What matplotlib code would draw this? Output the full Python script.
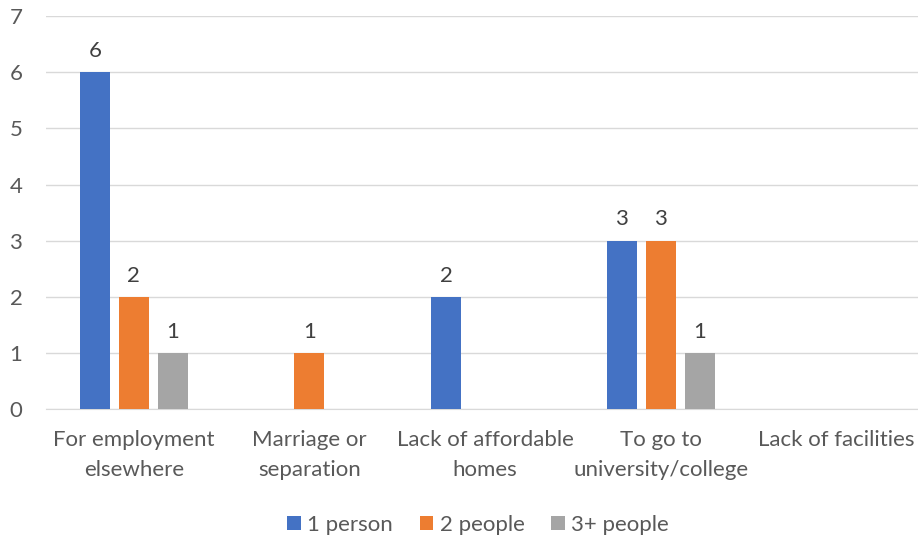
import matplotlib.pyplot as plt
import numpy as np

plt.rcParams['font.family'] = ['Lato', 'DejaVu Sans']

categories = ['For employment\nelsewhere', 'Marriage or\nseparation', 'Lack of affordable\nhomes',
              'To go to\nuniversity/college', 'Lack of facilities']
series_names = ['1 person', '2 people', '3+ people']
one_person = [6, np.nan, 2, 3, np.nan]
two_people = [2, 1, np.nan, 3, np.nan]
three_plus = [1, np.nan, np.nan, 1, np.nan]
colors = ['#4472C4', '#ED7D31', '#A5A5A5']

fs = 16

fig = plt.figure(figsize=(9.18, 5.39), dpi=100)
ax = fig.add_axes([0.0501, 0.241, 0.9564, 0.729])

x = np.arange(len(categories))
w = 0.171
step = 0.222
for i, (vals, name, c) in enumerate(zip([one_person, two_people, three_plus], series_names, colors)):
    bars = ax.bar(x + (i - 1) * step, vals, w, color=c, label=name, zorder=3)
    for b, v in zip(bars, vals):
        if not np.isnan(v):
            ax.text(b.get_x() + b.get_width() / 2, v + 0.2, f'{v:g}', ha='center', va='bottom',
                    fontsize=fs, color='#404040')

ax.set_xlim(-0.5, len(categories) - 0.5)
ax.set_ylim(0, 7)
ax.set_yticks(range(8))
ax.grid(axis='y', color='#d9d9d9', linewidth=1, zorder=0)
for s in ['top', 'right', 'left']:
    ax.spines[s].set_visible(False)
ax.spines['bottom'].set_color('#d9d9d9')
ax.tick_params(length=0, labelsize=fs, labelcolor='#595959')
ax.tick_params(axis='y', pad=17)
ax.tick_params(axis='x', pad=15)
ax.set_xticks(x)
ax.set_xticklabels(categories, linespacing=1.6)

fig.legend(loc='lower center', bbox_to_anchor=(0.521, -0.03), ncol=3, frameon=False, fontsize=fs,
           handlelength=0.6, handleheight=0.6, columnspacing=1.2, handletextpad=0.3,
           labelcolor='#595959')

fig.savefig('out.png', dpi=100)
